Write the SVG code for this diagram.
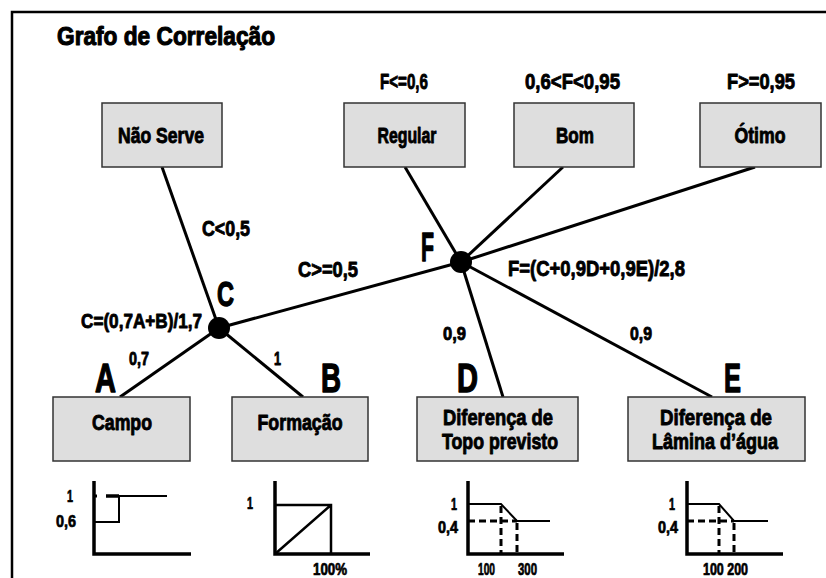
<svg xmlns="http://www.w3.org/2000/svg" width="826" height="578" viewBox="0 0 826 578">
<defs>
<style>
text{font-family:"Liberation Sans Narrow","Liberation Sans",Arial,sans-serif;font-weight:bold;fill:#000;stroke:#000;stroke-width:0.9;stroke-linejoin:round}
.box{fill:#dedede;stroke:#333;stroke-width:1.5}
.bt{font-size:22px;text-anchor:middle}
.lbl{font-size:22px}
.sm{font-size:19px}
.big{font-size:41px;stroke-width:1.4}
.gl{font-size:16px;stroke-width:0.7}
.edge{stroke:#000;stroke-width:3;fill:none}
.axis{stroke:#000;stroke-width:3.5;fill:none}
.gline{stroke:#000;stroke-width:2;fill:none}
.dash{stroke:#000;stroke-width:3;stroke-dasharray:7 4;fill:none}
</style>
</defs>
<rect width="826" height="578" fill="#fff"/>
<path d="M12 578 V12 H826" stroke="#000" stroke-width="2.5" fill="none"/>
<text x="57" y="45" font-size="26" textLength="218" lengthAdjust="spacingAndGlyphs" style="stroke-width:1.1">Grafo de Correlação</text>

<g id="connectors">
<line class="edge" x1="162" y1="167" x2="219" y2="328"/>
<line class="edge" x1="219" y1="328" x2="461" y2="262"/>
<line class="edge" x1="219" y1="328" x2="120" y2="397"/>
<line class="edge" x1="219" y1="328" x2="303" y2="397"/>
<line class="edge" x1="405" y1="167" x2="461" y2="262"/>
<line class="edge" x1="563" y1="167" x2="461" y2="262"/>
<line class="edge" x1="755" y1="167" x2="461" y2="262"/>
<line class="edge" x1="461" y1="262" x2="503" y2="397"/>
<line class="edge" x1="461" y1="262" x2="712" y2="397"/>
<text class="lbl" x="202" y="236" textLength="48" lengthAdjust="spacingAndGlyphs">C&lt;0,5</text>
<text class="lbl" x="298" y="277" textLength="60" lengthAdjust="spacingAndGlyphs">C&gt;=0,5</text>
<text x="81" y="328" font-size="21" textLength="121" lengthAdjust="spacingAndGlyphs">C=(0,7A+B)/1,7</text>
<text class="lbl" x="508" y="276" textLength="177" lengthAdjust="spacingAndGlyphs">F=(C+0,9D+0,9E)/2,8</text>
<text class="sm" x="129" y="365" textLength="20" lengthAdjust="spacingAndGlyphs">0,7</text>
<text class="sm" x="274" y="365" textLength="7" lengthAdjust="spacingAndGlyphs">1</text>
<text class="sm" x="443" y="340" textLength="23" lengthAdjust="spacingAndGlyphs">0,9</text>
<text class="sm" x="630" y="340" textLength="22" lengthAdjust="spacingAndGlyphs">0,9</text>
</g>

<g id="node-C">
<circle cx="219" cy="328" r="11" fill="#000"/>
<text x="217" y="306" font-size="35" textLength="17" lengthAdjust="spacingAndGlyphs" style="stroke-width:1.3">C</text>
</g>
<g id="node-F">
<circle cx="461" cy="262" r="11" fill="#000"/>
<text class="big" x="421" y="261" textLength="13" lengthAdjust="spacingAndGlyphs">F</text>
</g>

<g id="nao-serve">
<rect class="box" x="102" y="103" width="120" height="64"/>
<text class="bt" x="161" y="143" textLength="86" lengthAdjust="spacingAndGlyphs">Não Serve</text>
</g>
<g id="regular">
<rect class="box" x="344" y="103" width="121" height="64"/>
<text class="bt" x="407" y="143" textLength="59" lengthAdjust="spacingAndGlyphs">Regular</text>
<text class="lbl" x="380" y="89" textLength="48" lengthAdjust="spacingAndGlyphs">F&lt;=0,6</text>
</g>
<g id="bom">
<rect class="box" x="514" y="103" width="120" height="64"/>
<text class="bt" x="575" y="143" textLength="38" lengthAdjust="spacingAndGlyphs">Bom</text>
<text class="lbl" x="525" y="89" textLength="95" lengthAdjust="spacingAndGlyphs">0,6&lt;F&lt;0,95</text>
</g>
<g id="otimo">
<rect class="box" x="700" y="103" width="121" height="64"/>
<text class="bt" x="760" y="143" textLength="51" lengthAdjust="spacingAndGlyphs">Ótimo</text>
<text class="lbl" x="727" y="89" textLength="68" lengthAdjust="spacingAndGlyphs">F&gt;=0,95</text>
</g>

<g id="campo">
<rect class="box" x="53" y="397" width="137" height="64"/>
<text class="bt" x="122" y="430" textLength="60" lengthAdjust="spacingAndGlyphs">Campo</text>
<text class="big" x="95" y="392" textLength="21" lengthAdjust="spacingAndGlyphs">A</text>
<path class="axis" d="M94 481 V554 H191"/>
<path class="gline" d="M94 522 H119 V496 H167"/>
<line x1="106" y1="496" x2="119" y2="496" stroke="#000" stroke-width="3.5"/>
<line x1="94" y1="496" x2="97" y2="496" stroke="#000" stroke-width="3"/>
<text class="gl" x="67" y="502" textLength="6" lengthAdjust="spacingAndGlyphs">1</text>
<text class="gl" x="56" y="527" textLength="20" lengthAdjust="spacingAndGlyphs">0,6</text>
</g>

<g id="formacao">
<rect class="box" x="232" y="397" width="136" height="64"/>
<text class="bt" x="300" y="430" textLength="85" lengthAdjust="spacingAndGlyphs">Formação</text>
<text class="big" x="321" y="392" textLength="20" lengthAdjust="spacingAndGlyphs">B</text>
<path class="axis" d="M275 481 V554 H370"/>
<path d="M275 505 H331 V554 M275 554 L331 505" stroke="#000" stroke-width="2.5" fill="none"/>
<text class="gl" x="247" y="509" textLength="6" lengthAdjust="spacingAndGlyphs">1</text>
<text class="gl" x="313" y="575" textLength="34" lengthAdjust="spacingAndGlyphs">100%</text>
</g>

<g id="topo">
<rect class="box" x="417" y="397" width="161" height="64"/>
<text class="bt" x="498" y="425" font-size="20" textLength="110" lengthAdjust="spacingAndGlyphs">Diferença de</text>
<text class="bt" x="500" y="449" font-size="20" textLength="116" lengthAdjust="spacingAndGlyphs">Topo previsto</text>
<text class="big" x="457" y="392" textLength="21" lengthAdjust="spacingAndGlyphs">D</text>
<path class="axis" d="M468 481 V554 H564"/>
<path class="gline" d="M468 504 H501 L517 521 H550"/>
<path class="dash" d="M468 521 H517"/>
<path class="dash" d="M501 506 V554" stroke-width="2.5"/>
<path class="dash" d="M517 523 V554" stroke-width="3.5"/>
<text class="gl" x="451" y="510" textLength="6" lengthAdjust="spacingAndGlyphs">1</text>
<text class="gl" x="438" y="533" textLength="20" lengthAdjust="spacingAndGlyphs">0,4</text>
<text class="gl" x="478" y="575" textLength="17" lengthAdjust="spacingAndGlyphs">100</text>
<text class="gl" x="518" y="575" textLength="19" lengthAdjust="spacingAndGlyphs">300</text>
</g>

<g id="lamina">
<rect class="box" x="628" y="397" width="177" height="64"/>
<text class="bt" x="716" y="425" font-size="20" textLength="112" lengthAdjust="spacingAndGlyphs">Diferença de</text>
<text class="bt" x="715" y="449" font-size="20" textLength="126" lengthAdjust="spacingAndGlyphs">Lâmina d’água</text>
<text class="big" x="724" y="392" textLength="17" lengthAdjust="spacingAndGlyphs">E</text>
<path class="axis" d="M687 481 V554 H783"/>
<path class="gline" d="M687 504 H719 L734 521 H768"/>
<path class="dash" d="M687 521 H734"/>
<path class="dash" d="M719 506 V554" stroke-width="2.5"/>
<path class="dash" d="M734 523 V554" stroke-width="3.5"/>
<text class="gl" x="669" y="510" textLength="6" lengthAdjust="spacingAndGlyphs">1</text>
<text class="gl" x="658" y="533" textLength="20" lengthAdjust="spacingAndGlyphs">0,4</text>
<text class="gl" x="703" y="575" textLength="45" lengthAdjust="spacingAndGlyphs">100 200</text>
</g>
</svg>
